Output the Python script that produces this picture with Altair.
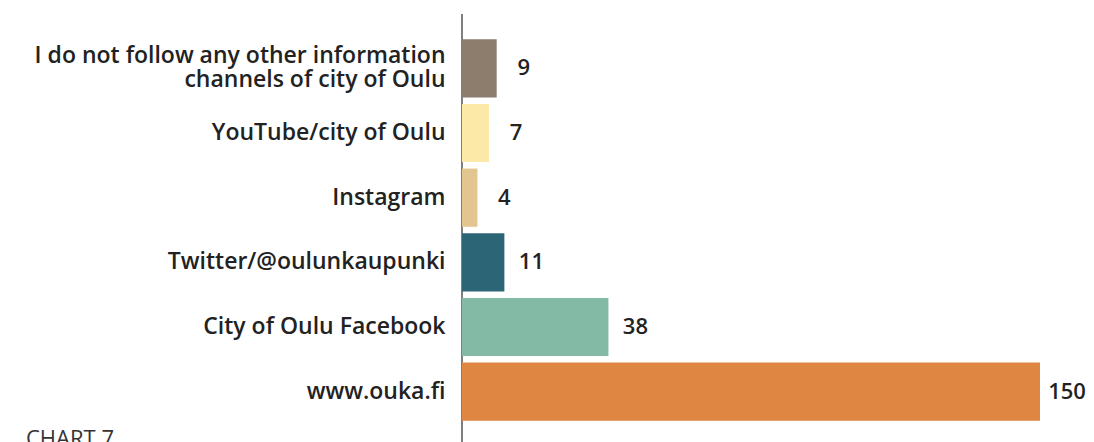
import altair as alt
import pandas as pd

categories = [
    "I do not follow any other information|channels of city of Oulu",
    "YouTube/city of Oulu",
    "Instagram",
    "Twitter/@oulunkaupunki",
    "City of Oulu Facebook",
    "www.ouka.fi",
]
values = [9, 7, 4, 11, 38, 150]
colors = ["#8d7d6c", "#fde9a7", "#e3c58f", "#2c6676", "#83baa5", "#df8642"]
chart_label = ["CHART 7"]

df = pd.DataFrame({"cat": categories, "val": values, "col": colors})

FONT = "Open Sans"
W, H = 578, 388

y_enc = alt.Y(
    "cat:N",
    sort=categories,
    title=None,
    scale=alt.Scale(paddingInner=0.1, paddingOuter=0.05),
    axis=alt.Axis(
        domain=False,
        ticks=False,
        labelPadding=17,
        labelFont=FONT,
        labelFontSize=23,
        labelFontWeight=600,
        labelColor="#222222",
        labelLimit=600,
        labelLineHeight=24,
        labelExpr="split(datum.label, '|')",
        labelOffset={"condition": {"test": "indexof(datum.value, '|') >= 0", "value": -12}, "value": 0},
    ),
)
x_enc = alt.X("val:Q", title=None, scale=alt.Scale(domain=[0, 150], nice=False), axis=None)

base = alt.Chart(df)
bars = base.mark_bar().encode(
    x=x_enc, y=y_enc, color=alt.Color("col:N", scale=None)
)
text = base.mark_text(
    align="center", baseline="middle", dx=27, font=FONT, fontSize=22, fontWeight=600, color="#222222"
).encode(x=x_enc, y=alt.Y("cat:N", sort=categories), text="val:Q")

rule = alt.Chart(pd.DataFrame({"a": [0]})).mark_rule(color="#555555", strokeWidth=1.5).encode(
    x=alt.value(0), y=alt.value(-22), y2=alt.value(H + 40)
)

foot = alt.Chart(pd.DataFrame({"t": chart_label})).mark_text(
    align="left", baseline="top", font=FONT, fontSize=22, color="#333333"
).encode(x=alt.value(-436), y=alt.value(393), text="t:N")

chart = (
    alt.layer(rule, bars, text, foot)
    .properties(
        width=W,
        height=H,
        background="white",
        autosize=alt.AutoSizeParams(type="none"),
        padding={"left": 454, "top": 28, "right": 46, "bottom": 18},
    )
    .configure_view(strokeWidth=0, stroke=None)
)

chart.save("out.html", embed_options={"renderer": "svg", "actions": False})
